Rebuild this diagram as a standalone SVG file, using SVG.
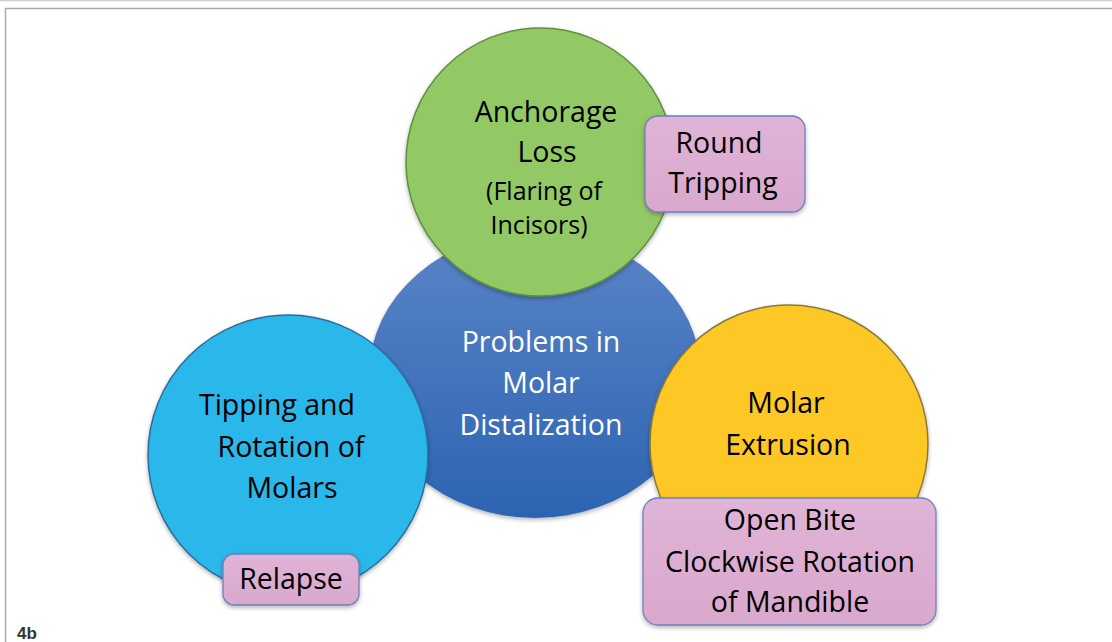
<svg xmlns="http://www.w3.org/2000/svg" width="1112" height="642" viewBox="0 0 1112 642">
<defs>
<linearGradient id="gBlue" x1="0" y1="0" x2="0" y2="1">
<stop offset="0" stop-color="#5b84c7"/>
<stop offset="1" stop-color="#2c64b1"/>
</linearGradient>
<linearGradient id="gPink" x1="0" y1="0" x2="0" y2="1">
<stop offset="0" stop-color="#e0b4d6"/>
<stop offset="1" stop-color="#d9a8cd"/>
</linearGradient>
<filter id="sh" x="-10%" y="-10%" width="120%" height="125%">
<feDropShadow dx="0" dy="2" stdDeviation="2" flood-color="#000" flood-opacity="0.3"/>
</filter>
</defs>
<style>
.t{font-family:"Open Sans","Liberation Sans",sans-serif;text-anchor:middle;fill:#000;}
.w{fill:#fff;}
.big{font-size:28.5px;}
.sm{font-size:25px;}
.box{fill:url(#gPink);stroke:#6f7fbf;stroke-width:1.3;filter:url(#sh);}
.circ{filter:url(#sh);stroke-width:1.5;}
</style>
<rect width="1112" height="642" fill="#fff"/>
<line x1="0" y1="0.5" x2="1112" y2="0.5" stroke="#d0d0d0" stroke-width="1.5"/>
<polyline points="5.5,642 5.5,8.5 1112,8.5" fill="none" stroke="#aaaaaa" stroke-width="1.5"/>
<g id="connectors"/>
<g id="center">
<ellipse cx="535" cy="375" rx="166" ry="143" fill="url(#gBlue)" filter="url(#sh)"/>
<text class="t w big" x="541" y="352">Problems in</text>
<text class="t w big" x="541" y="393">Molar</text>
<text class="t w big" x="541" y="435">Distalization</text>
</g>
<g id="anchorage">
<circle class="circ" cx="540" cy="162" r="134" fill="#92c965" stroke="#5f8f3e"/>
<text class="t big" x="546" y="122">Anchorage</text>
<text class="t big" x="547" y="162">Loss</text>
<text class="t sm" x="544" y="200">(Flaring of</text>
<text class="t sm" x="539" y="234">Incisors)</text>
</g>
<g id="tipping">
<circle class="circ" cx="288" cy="455" r="140" fill="#2bb8ea" stroke="#2a6d9a"/>
<text class="t big" x="277" y="415">Tipping and</text>
<text class="t big" x="291" y="457">Rotation of</text>
<text class="t big" x="292" y="498">Molars</text>
</g>
<g id="extrusion">
<circle class="circ" cx="789" cy="444" r="139" fill="#fdc826" stroke="#8a7a3a"/>
<text class="t big" x="786" y="413">Molar</text>
<text class="t big" x="788" y="455">Extrusion</text>
</g>
<g id="roundtripping">
<rect class="box" x="645" y="116" width="160" height="96" rx="13"/>
<text class="t big" x="719" y="153">Round</text>
<text class="t big" x="723" y="193">Tripping</text>
</g>
<g id="relapse">
<rect class="box" x="223" y="554" width="136" height="51" rx="11"/>
<text class="t big" x="291" y="589">Relapse</text>
</g>
<g id="openbite">
<rect class="box" x="643" y="498" width="293" height="127" rx="15"/>
<text class="t big" x="790" y="530">Open Bite</text>
<text class="t big" x="790" y="572">Clockwise Rotation</text>
<text class="t big" x="790" y="612">of Mandible</text>
</g>
<text x="17" y="639" font-family="Liberation Sans, sans-serif" font-weight="bold" font-size="17" fill="#333">4b</text>
</svg>
